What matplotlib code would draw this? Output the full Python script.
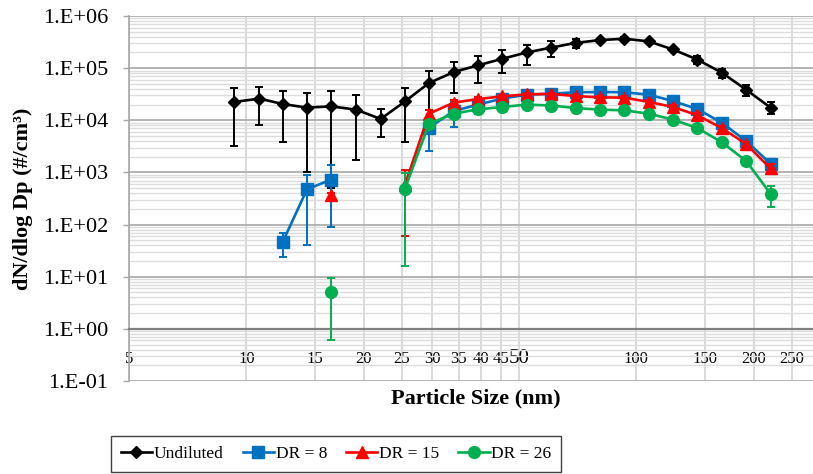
import numpy as np
import matplotlib
matplotlib.use("Agg")
import matplotlib.pyplot as plt
from matplotlib.ticker import FixedLocator, FixedFormatter, NullLocator, LogLocator, NullFormatter

nan = np.nan

# Particle size bins (nm)
diameters = [9.31, 10.8, 12.4, 14.3, 16.5, 19.1, 22.1, 25.5, 29.4, 34.0, 39.2, 45.3,
             52.3, 60.4, 69.8, 80.6, 93.1, 107.5, 124.1, 143.3, 165.5, 191.1, 220.7]

undiluted_mean = [2.25e4, 2.6e4, 2.05e4, 1.75e4, 1.85e4, 1.6e4, 1.06e4, 2.3e4, 5.2e4, 8.4e4,
                  1.13e5, 1.51e5, 2.0e5, 2.47e5, 3.05e5, 3.45e5, 3.67e5, 3.26e5, 2.28e5,
                  1.46e5, 8.2e4, 3.87e4, 1.75e4]
undiluted_sd = [1.93e4, 1.78e4, 1.66e4, 1.65e4, 1.8e4, 1.43e4, 5.9e3, 1.92e4, 3.6e4, 5.0e4,
                6.1e4, 7.1e4, 8.4e4, 8.1e4, 6.0e4, 2.5e4, 2.0e4, 1.6e4, 1.8e4, 2.5e4,
                1.6e4, 9.5e3, 4.5e3]

dr8_mean = [nan, nan, 47, 475, 730, nan, nan, nan, 7.2e3, 1.5e4, 2.0e4, 2.6e4, 3.1e4, 3.24e4,
            3.45e4, 3.48e4, 3.45e4, 3.1e4, 2.34e4, 1.64e4, 9.0e3, 4.0e3, 1.48e3]
dr8_sd = [nan, nan, 23, 435, 640, nan, nan, nan, 4.6e3, 7.5e3, 7.0e3, 3.0e3, 2.5e3, 2.0e3,
          2.0e3, 2.0e3, 2.0e3, 2.0e3, 1.8e3, 1.5e3, 800, 400, 200]

dr15_mean = [nan, nan, nan, nan, 366, nan, nan, 580, 1.34e4, 2.18e4, 2.55e4, 2.88e4, 3.15e4,
             3.2e4, 2.92e4, 2.75e4, 2.72e4, 2.25e4, 1.8e4, 1.25e4, 7.1e3, 3.5e3, 1.19e3]
dr15_sd = [nan, nan, nan, nan, 40, nan, nan, 520, 2.5e3, 3.0e3, 2.5e3, 2.0e3, 2.0e3, 2.0e3,
           2.0e3, 2.0e3, 2.0e3, 1.8e3, 1.5e3, 1.2e3, 700, 350, 250]

dr26_mean = [nan, nan, nan, nan, 5.0, nan, nan, 490, 8.6e3, 1.34e4, 1.62e4, 1.8e4, 2.0e4,
             1.92e4, 1.72e4, 1.6e4, 1.55e4, 1.34e4, 1.03e4, 7.1e3, 3.8e3, 1.66e3, 390]
dr26_sd = [nan, nan, nan, nan, 4.4, nan, nan, 474, 1.5e3, 2.0e3, 2.0e3, 1.5e3, 1.5e3, 1.5e3,
           1.2e3, 1.2e3, 1.2e3, 1.0e3, 800, 600, 350, 200, 170]

series_labels = ["Undiluted", "DR = 8", "DR = 15", "DR = 26"]

x_ticks = [5, 10, 15, 20, 25, 30, 35, 40, 45, 50, 100, 150, 200, 250]
x_tick_labels = ["5", "10", "15", "20", "25", "30", "35", "40", "45", "50",
                 "100", "150", "200", "250"]
y_ticks = [1e-1, 1e0, 1e1, 1e2, 1e3, 1e4, 1e5, 1e6]
y_tick_labels = ["1.E-01", "1.E+00", "1.E+01", "1.E+02", "1.E+03", "1.E+04", "1.E+05", "1.E+06"]

plt.rcParams["font.family"] = ["Liberation Serif", "DejaVu Serif"]

W, H = 813, 474
fig = plt.figure(figsize=(W / 100, H / 100), dpi=100)
ax = fig.add_axes([129 / W, 93 / H, 693.5 / W, 365 / H])
ax.set_xscale("log")
ax.set_yscale("log")
ax.set_xlim(5, 300)
ax.set_ylim(0.1, 1e6)

styles = [
    dict(color="#000000", marker="D", ms=6.5),
    dict(color="#0070C0", marker="s", ms=8.5),
    dict(color="#FF0000", marker="^", ms=8.8),
    dict(color="#00B050", marker="o", ms=8.5),
]
means = [undiluted_mean, dr8_mean, dr15_mean, dr26_mean]
sds = [undiluted_sd, dr8_sd, dr15_sd, dr26_sd]

handles = []
x = np.array(diameters)
for i, (m, s, st, lab) in enumerate(zip(means, sds, styles, series_labels)):
    m = np.array(m, dtype=float)
    s = np.array(s, dtype=float)
    cont = ax.errorbar(x, m, yerr=s, color=st["color"], marker=st["marker"],
                       ms=st["ms"], mec=st["color"], mfc=st["color"], lw=1.9,
                       elinewidth=1.4, capsize=3.2, capthick=1.4, label=lab,
                       zorder=3 + i)
    handles.append(cont[0])

# Gridlines
ax.set_axisbelow(True)
ax.xaxis.set_major_locator(FixedLocator(x_ticks))
ax.xaxis.set_major_formatter(FixedFormatter(x_tick_labels))
ax.xaxis.set_minor_locator(NullLocator())
ax.yaxis.set_major_locator(FixedLocator(y_ticks))
ax.yaxis.set_major_formatter(FixedFormatter(y_tick_labels))
ax.yaxis.set_minor_locator(LogLocator(base=10, subs=np.arange(2, 10), numticks=20))
ax.yaxis.set_minor_formatter(NullFormatter())
ax.grid(True, which="major", axis="x", color="#d9d9d9", lw=1.4)
ax.grid(True, which="major", axis="y", color="#b3b3b3", lw=1.4)
ax.grid(True, which="minor", axis="y", color="#dcdcdc", lw=1.0)

# Axes lines
for side in ("top", "right"):
    ax.spines[side].set_visible(False)
ax.spines["left"].set_color("#a6a6a6")
ax.spines["left"].set_linewidth(1.2)
ax.spines["bottom"].set_position(("data", 1))
ax.spines["bottom"].set_color("#808080")
ax.spines["bottom"].set_linewidth(1.6)

ax.tick_params(axis="y", which="major", length=4.3, width=1.0, color="#a6a6a6",
               pad=10.5, labelsize=16)
ax.tick_params(axis="y", which="minor", length=0)
ax.tick_params(axis="x", which="major", length=0, pad=24.5, labelsize=12)
for lbl in ax.get_xticklabels():
    lbl.set_verticalalignment("baseline")
    if lbl.get_text() == "50":
        lbl.set_fontsize(15)

ax.set_xlabel("Particle Size (nm)", fontsize=16, fontweight="bold")
ax.xaxis.label.set_verticalalignment("center")
ax.xaxis.set_label_coords(0.5, -0.0466)
ax.set_ylabel("dN/dlog Dp (#/cm³)", fontsize=16, fontweight="bold")
ax.yaxis.label.set_verticalalignment("center")
ax.yaxis.set_label_coords(-0.153, 0.5)

leg = fig.legend(handles, series_labels, loc="center",
                 bbox_to_anchor=(336 / W, (H - 454) / H), ncol=4, frameon=True,
                 fancybox=False, edgecolor="#404040", fontsize=12.5,
                 handlelength=1.8, handletextpad=0.1, columnspacing=1.1,
                 borderpad=0.55, framealpha=1)
leg.get_frame().set_linewidth(1.0)

fig.savefig("out.png", dpi=100)
